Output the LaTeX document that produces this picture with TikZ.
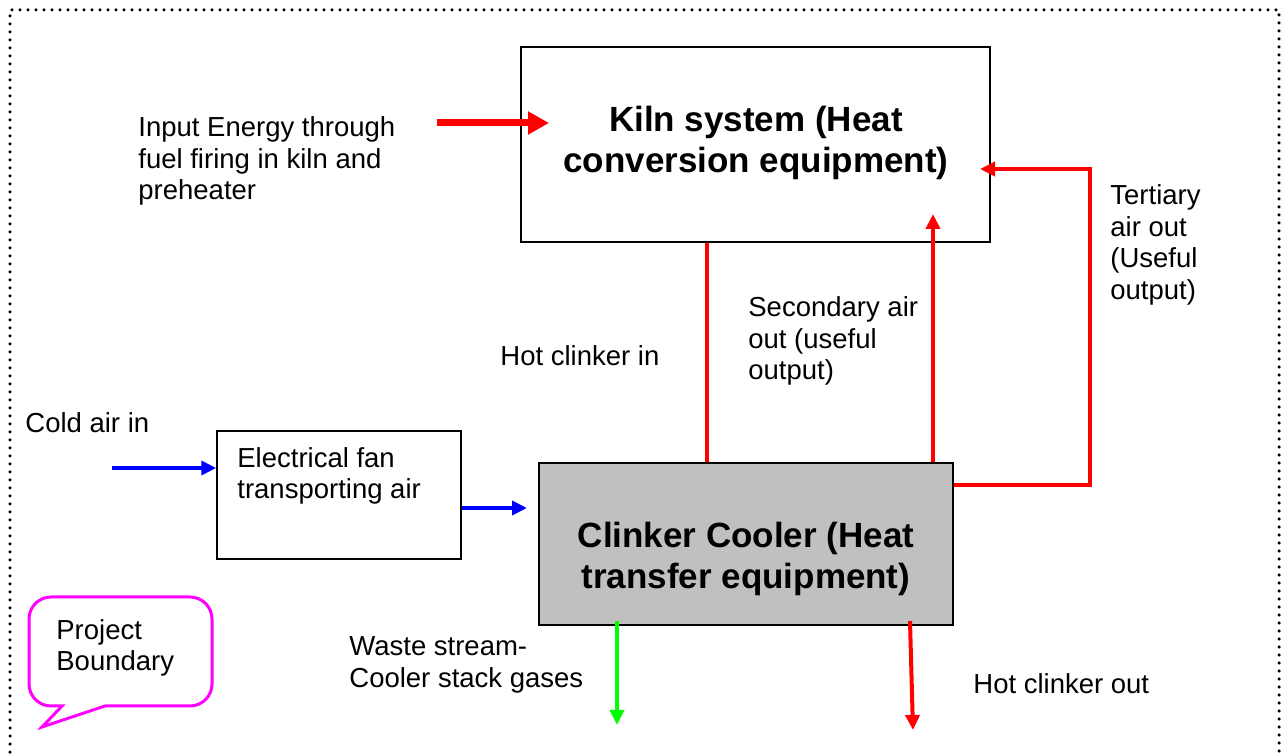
\documentclass[tikz,border=0pt]{standalone}
\usepackage{fontspec}
\setmainfont{Liberation Sans}
\usetikzlibrary{arrows.meta}
\definecolor{coolergray}{RGB}{192,192,192}
\definecolor{flowred}{RGB}{255,0,0}
\definecolor{flowblue}{RGB}{0,0,255}
\definecolor{flowgreen}{RGB}{0,255,0}
\definecolor{callmagenta}{RGB}{255,0,255}
\tikzset{
  box/.style={draw=black, line width=0.75pt, inner sep=0pt},
  lbl/.style={anchor=west, align=left, inner sep=0pt, font=\fontsize{13.75}{15.75}\selectfont},
  title/.style={align=center, inner sep=0pt, font=\bfseries\fontsize{17.5}{20.5}\selectfont},
  flow/.style={line width=2pt, -{Triangle[length=7.5pt,width=7pt]}},
}
\begin{document}
\begin{tikzpicture}[x=0.5pt,y=-0.5pt]
\useasboundingbox (0,0) rectangle (1282,754);
% project boundary
\draw[line width=1.75pt, line cap=round, dash pattern=on 0pt off 4pt] (10,760) -- (10,10) -- (1279,10) -- (1279,760);
% boxes
\node[box, minimum width=234.5pt, minimum height=97.5pt] (kiln) at (755.5,144.5) {};
\node[title] (kilntext) at (756,143) {Kiln system (Heat\\conversion equipment)};
\node[box, fill=coolergray, minimum width=207pt, minimum height=81pt] (cooler) at (746,544) {};
\node[title] (coolertext) at (746,559) {Clinker Cooler (Heat\\transfer equipment)};
\node[box, minimum width=122pt, minimum height=64pt] (fan) at (339,495) {};
\node[lbl] (fantext) at (237,476) {Electrical fan\\transporting air};
% labels
\node[lbl] (fuel) at (138,161) {Input Energy through\\fuel firing in kiln and\\preheater};
\node[lbl] (hotin) at (500,356) {Hot clinker in};
\node[lbl] (secair) at (748,341) {Secondary air\\out (useful\\output)};
\node[lbl] (terair) at (1110,245) {Tertiary\\air out\\(Useful\\output)};
\node[lbl] (coldair) at (25,423) {Cold air in};
\node[lbl] (waste) at (349,665) {Waste stream-\\Cooler stack gases};
\node[lbl] (hotout) at (973,684) {Hot clinker out};
\node[lbl] (boundary) at (56,648) {Project\\Boundary};
% flows
\coordinate (fuelstart) at (437,123);
\coordinate (fueltip) at (549,123);
\draw[flowred, line width=3.5pt, -{Triangle[length=10.5pt,width=11pt]}] (fuelstart) -- (fueltip);
\coordinate (hotx) at (707,0);
\draw[flowred, line width=2pt] (hotx |- kiln.south) -- (hotx |- cooler.north);
\coordinate (sectip) at (933,214);
\draw[flow, flowred] (sectip |- cooler.north) -- (sectip);
\coordinate (tercorner) at (1090,485);
\coordinate (tertip) at (980,169);
\draw[flow, flowred] (cooler.east |- tercorner) -- (tercorner) -- (tercorner |- tertip) -- (tertip);
\coordinate (coldstart) at (112,468);
\draw[flow, flowblue] (coldstart) -- (coldstart -| fan.west);
\coordinate (fantip) at (527,508);
\draw[flow, flowblue] (fantip -| fan.east) -- (fantip);
\coordinate (wastetip) at (617,725);
\draw[flow, flowgreen] (617,621) -- (wastetip);
\coordinate (outtop) at (910,621);
\coordinate (outtip) at (913,730);
\draw[flow, flowred] (outtop) -- (outtip);
% callout
\draw[callmagenta, line width=1.5pt] (105,706) [rounded corners=11pt] -- (212,706) -- (212,597) -- (29,597) -- (29,706) [sharp corners] -- (62,706) -- (42,727) -- cycle;
\end{tikzpicture}
\end{document}
